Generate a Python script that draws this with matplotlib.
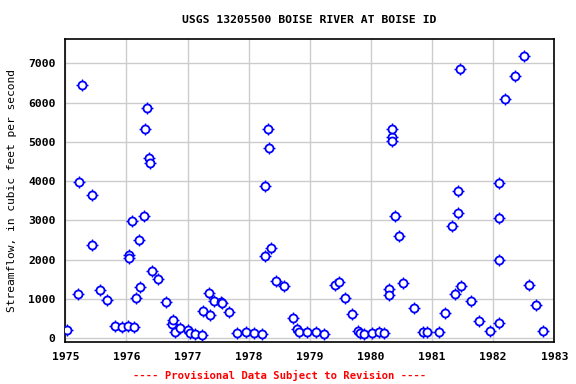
import numpy as np
import matplotlib
matplotlib.use('Agg')
import matplotlib.pyplot as plt

# sample dates (decimal years) and streamflow (cfs)
year = [1975.03, 1975.21, 1975.23, 1975.28, 1975.44, 1975.44, 1975.56, 1975.68,
        1975.82, 1975.93, 1976.03, 1976.05, 1976.05, 1976.09, 1976.12, 1976.15,
        1976.20, 1976.23, 1976.29, 1976.31, 1976.33, 1976.37, 1976.39, 1976.42,
        1976.51, 1976.64, 1976.74, 1976.77, 1976.80, 1976.88, 1977.01, 1977.04,
        1977.12, 1977.23, 1977.26, 1977.35, 1977.37, 1977.43, 1977.54, 1977.56,
        1977.68, 1977.81, 1977.95, 1978.09, 1978.21, 1978.26, 1978.27, 1978.31,
        1978.33, 1978.37, 1978.45, 1978.58, 1978.72, 1978.79, 1978.83, 1978.96,
        1979.10, 1979.24, 1979.42, 1979.48, 1979.58, 1979.69, 1979.79, 1979.82,
        1979.88, 1980.02, 1980.14, 1980.21, 1980.30, 1980.30, 1980.34, 1980.34,
        1980.35, 1980.39, 1980.46, 1980.53, 1980.70, 1980.85, 1980.92, 1981.11,
        1981.21, 1981.32, 1981.38, 1981.42, 1981.43, 1981.45, 1981.48, 1981.64,
        1981.76, 1981.94, 1982.09, 1982.10, 1982.10, 1982.10, 1982.19, 1982.35,
        1982.50, 1982.59, 1982.70, 1982.81]
flow = [210, 1120, 3970, 6440, 3640, 2370, 1230, 975,
        310, 290, 310, 2120, 2040, 2980, 290, 1025,
        2500, 1305, 3110, 5340, 5850, 4600, 4450, 1710,
        1510, 915, 355, 465, 155, 255, 210, 125,
        110, 85, 695, 1145, 585, 950, 915, 890,
        660, 125, 155, 125, 110, 2090, 3875, 5340,
        4835, 2290, 1460, 1325, 510, 245, 155, 155,
        155, 110, 1350, 1435, 1020, 610, 185, 125,
        100, 125, 160, 125, 1255, 1095, 5115, 5015,
        5340, 3110, 2595, 1400, 765, 155, 155, 155,
        635, 2865, 1120, 3740, 3180, 6845, 1325, 940,
        435, 180, 380, 3945, 3055, 1990, 6080, 6675,
        7185, 1355, 840, 180]

title = 'USGS 13205500 BOISE RIVER AT BOISE ID'
ylabel = 'Streamflow, in cubic feet per second'
footer = '---- Provisional Data Subject to Revision ----'
xticks = list(range(1975, 1984))
yticks = list(range(0, 8000, 1000))

fig = plt.figure(figsize=(5.76, 3.84), dpi=100)
ax = fig.add_axes([65.3/576, 1 - 342.3/384, (554.3-65.3)/576, (342.3-39.3)/384])

# crosshair ticks under a white-filled circle
ax.plot(year, flow, ls='none', marker='+', ms=8, mew=1.0, color='#0000ff', zorder=3)
ax.plot(year, flow, ls='none', marker='o', ms=5.8, mew=1.3, mfc='white',
        mec='#0000ff', zorder=4)

ax.set_xlim(1975, 1983)
ax.set_ylim(-100, 7610)
ax.set_xticks(xticks)
ax.set_yticks(yticks)
ax.grid(True, color='#cccccc', lw=1.0)
ax.set_axisbelow(True)
ax.tick_params(length=0, pad=7)
for s in ax.spines.values():
    s.set_linewidth(1.2)

mono = 'DejaVu Sans Mono'
for lab in ax.get_xticklabels() + ax.get_yticklabels():
    lab.set_family(mono)
    lab.set_fontweight('bold')
    lab.set_fontsize(8.2)

fig.text(12/576, 1 - 190/384, ylabel, family=mono, fontsize=8.1,
         rotation=90, ha='center', va='center')
fig.text(309/576, 1 - 20/384, title, family=mono, fontweight='bold',
         fontsize=8.2, ha='center', va='center')
fig.text(280/576, 1 - 375/384, footer, family=mono, fontweight='bold',
         fontsize=7.6, color='red', ha='center', va='center')

fig.savefig('out.png', dpi=100)
